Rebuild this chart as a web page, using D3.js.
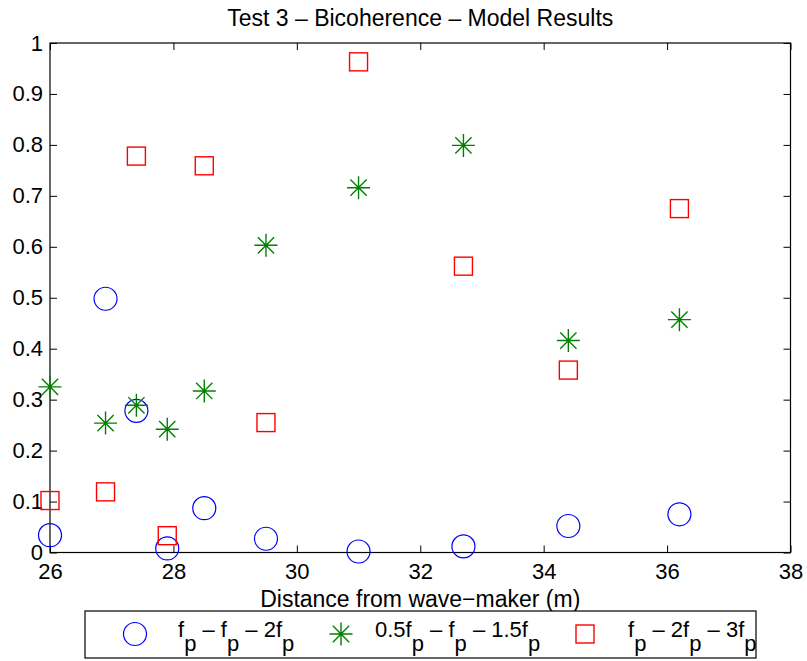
<!DOCTYPE html>
<html>
<head>
<meta charset="utf-8">
<script src="https://cdn.jsdelivr.net/npm/d3@7"></script>
<style>
  html, body { margin: 0; padding: 0; background: #fff; }
  svg { display: block; font-family: "Liberation Sans", Arial, Helvetica, sans-serif; }
</style>
</head>
<body>
<svg id="chart" width="807" height="661"></svg>
<script>
// Distance of each gauge from the wave-maker (m)
const distances = [26, 26.9, 27.4, 27.9, 28.5, 29.5, 31, 32.7, 34.4, 36.2];
// Bicoherence of each triad
const triadA = [0.034, 0.498, 0.278, 0.008, 0.087, 0.027, 0.002, 0.012, 0.052, 0.075]; // fp – fp – 2fp
const triadB = [0.325, 0.254, 0.289, 0.242, 0.317, 0.603, 0.716, 0.799, 0.416, 0.457]; // 0.5fp – fp – 1.5fp
const triadC = [0.102, 0.119, 0.778, 0.033, 0.759, 0.255, 0.963, 0.562, 0.358, 0.675]; // fp – 2fp – 3fp
const xTicks = [26, 28, 30, 32, 34, 36, 38];
const yTicks = [0, 0.1, 0.2, 0.3, 0.4, 0.5, 0.6, 0.7, 0.8, 0.9, 1];

const svg = d3.select("#chart");
const L = 50, R = 790.5, T = 43, B = 552.5;
const x = d3.scaleLinear().domain([26, 38]).range([L, R]);
const y = d3.scaleLinear().domain([0, 1]).range([B, T]);

const tickLen = 7;
const fmtY = d => d === 0 ? "0" : d === 1 ? "1" : d3.format(".1f")(d);

// Axes: bottom/left with labels, top/right as ticks only (inward)
svg.append("g").attr("transform", `translate(0,${B})`)
  .call(d3.axisBottom(x).tickValues(xTicks).tickSizeInner(-tickLen).tickSizeOuter(0).tickPadding(11))
  .call(g => g.select(".domain").remove());
svg.append("g").attr("transform", `translate(0,${T})`)
  .call(d3.axisTop(x).tickValues(xTicks).tickSizeInner(-tickLen).tickSizeOuter(0).tickFormat(""))
  .call(g => g.select(".domain").remove());
svg.append("g").attr("transform", `translate(${L},0)`)
  .call(d3.axisLeft(y).tickValues(yTicks).tickFormat(fmtY).tickSizeInner(-tickLen).tickSizeOuter(0).tickPadding(7))
  .call(g => g.select(".domain").remove());
svg.append("g").attr("transform", `translate(${R},0)`)
  .call(d3.axisRight(y).tickValues(yTicks).tickSizeInner(-tickLen).tickSizeOuter(0).tickFormat(""))
  .call(g => g.select(".domain").remove());

svg.selectAll(".tick line").attr("stroke", "#000").attr("stroke-width", 1);
svg.selectAll(".tick text").attr("fill", "#000").attr("font-size", 22)
  .attr("font-family", "Liberation Sans, Arial, sans-serif");

// Plot box
svg.append("rect").attr("x", L).attr("y", T).attr("width", R - L).attr("height", B - T)
  .attr("fill", "none").attr("stroke", "#000").attr("stroke-width", 1.2);

// Marker shapes
const circleR = 11.5, sq = 9, st = 11.5;
const starPath = (s) => {
  const d = s * Math.SQRT1_2;
  return `M${-s},0H${s}M0,${-s}V${s}M${-d},${-d}L${d},${d}M${-d},${d}L${d},${-d}`;
};

function drawCircle(g, cx, cy) {
  g.append("circle").attr("cx", cx).attr("cy", cy).attr("r", circleR)
    .attr("fill", "none").attr("stroke", "#0000ff").attr("stroke-width", 1.2);
}
function drawStar(g, cx, cy) {
  g.append("path").attr("d", starPath(st)).attr("transform", `translate(${cx},${cy})`)
    .attr("fill", "none").attr("stroke", "#008000").attr("stroke-width", 1.4);
}
function drawSquare(g, cx, cy) {
  g.append("rect").attr("x", cx - sq).attr("y", cy - sq).attr("width", 2 * sq).attr("height", 2 * sq)
    .attr("fill", "none").attr("stroke", "#ff0000").attr("stroke-width", 1.4);
}

const marks = svg.append("g");
distances.forEach((d, i) => drawCircle(marks, x(d), y(triadA[i])));
distances.forEach((d, i) => drawStar(marks, x(d), y(triadB[i])));
distances.forEach((d, i) => drawSquare(marks, x(d), y(triadC[i])));

// Title and x label
svg.append("text").attr("x", (L + R) / 2).attr("y", 26).attr("text-anchor", "middle")
  .attr("font-size", 23).text("Test 3 \u2013 Bicoherence \u2013 Model Results");
svg.append("text").attr("x", (L + R) / 2).attr("y", 607).attr("text-anchor", "middle")
  .attr("font-size", 23).text("Distance from wave\u2212maker (m)");

// Legend
const leg = svg.append("g");
leg.append("rect").attr("x", 85).attr("y", 611).attr("width", 671).attr("height", 47)
  .attr("fill", "#fff").attr("stroke", "#000").attr("stroke-width", 1.2);

const subDrop = 14;
function legendLabel(xPos, parts) {
  const t = leg.append("text").attr("x", xPos).attr("y", 637).attr("font-size", 22);
  let pending = 0;
  parts.forEach(p => {
    if (p.sub) {
      t.append("tspan").attr("dy", pending + subDrop).text(p.sub);
      pending = -subDrop;
    } else {
      t.append("tspan").attr("dy", pending).text(p.t);
      pending = 0;
    }
  });
}
drawCircle(leg, 135, 634);
legendLabel(178, [{t: "f"}, {sub: "p"}, {t: " \u2013 f"}, {sub: "p"}, {t: " \u2013 2f"}, {sub: "p"}]);
drawStar(leg, 341, 634);
legendLabel(375, [{t: "0.5f"}, {sub: "p"}, {t: " \u2013 f"}, {sub: "p"}, {t: " \u2013 1.5f"}, {sub: "p"}]);
drawSquare(leg, 585, 634);
legendLabel(628, [{t: "f"}, {sub: "p"}, {t: " \u2013 2f"}, {sub: "p"}, {t: " \u2013 3f"}, {sub: "p"}]);
</script>
</body>
</html>
